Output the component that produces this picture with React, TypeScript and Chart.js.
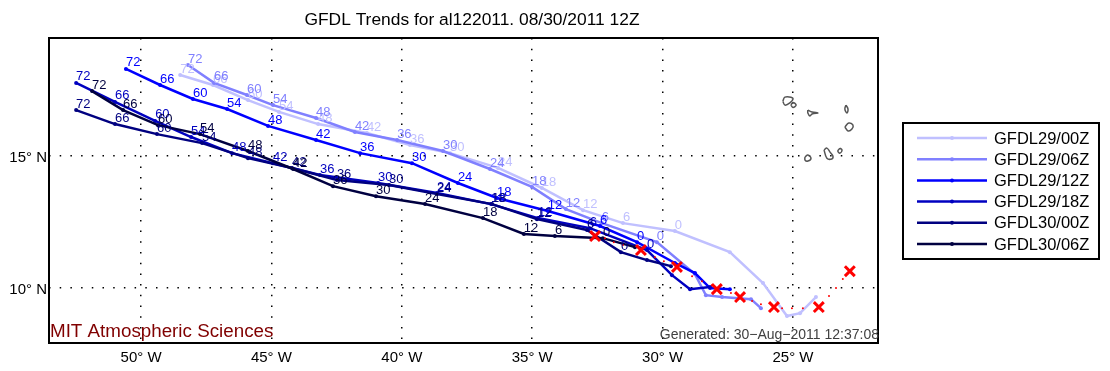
import React, { useEffect, useRef } from "react";
import { Chart, registerables } from "chart.js";

Chart.register(...registerables);

const FONT = '"Liberation Sans", Arial, sans-serif';

const titleText = "GFDL Trends for al122011. 08/30/2011 12Z";
const creditText = "MIT Atmospheric Sciences";
const generatedText = "Generated: 30\u2212Aug\u22122011 12:37:08";

const lonTicks = [-50, -45, -40, -35, -30, -25];
const latTicks = [10, 15];
const forecastHours = ["72", "66", "60", "54", "48", "42", "36", "30", "24", "18", "12", "6", "0"];

const seriesNames = ["GFDL29/00Z", "GFDL29/06Z", "GFDL29/12Z", "GFDL29/18Z", "GFDL30/00Z", "GFDL30/06Z"];
const seriesColors = ["#C0C0FF", "#8080FF", "#0000FF", "#0000C0", "#000080", "#000040"];

const lon2900 = [-48.5, -47.24, -45.9, -44.71, -43.21, -41.34, -39.69, -38.15, -36.31, -34.63, -33.05, -31.52, -29.53, -27.42, -26.15, -25.23, -24.73, -24.12];
const lat2900 = [18.07, 17.69, 17.12, 16.67, 16.21, 15.87, 15.42, 15.11, 14.55, 13.79, 12.95, 12.46, 12.16, 11.36, 10.19, 8.94, 9.05, 9.66];
const lon2906 = [-48.2, -47.2, -45.94, -44.94, -43.29, -41.8, -40.18, -38.42, -36.62, -35.01, -33.71, -32.33, -30.22, -28.76, -28.34, -27.72, -26.61, -26.23];
const lat2906 = [18.45, 17.77, 17.31, 16.93, 16.44, 15.91, 15.61, 15.19, 14.51, 13.83, 12.99, 12.46, 11.74, 10.53, 9.73, 9.66, 9.58, 9.24];
const lon2912 = [-50.58, -49.27, -48.01, -46.7, -45.13, -43.29, -41.6, -39.61, -37.85, -36.35, -34.4, -32.4, -30.98, -29.53, -28.76, -28.18, -27.42];
const lat2912 = [18.3, 17.69, 17.16, 16.78, 16.14, 15.61, 15.11, 14.73, 13.98, 13.41, 12.92, 12.35, 11.74, 10.95, 10.57, 10.0, 9.96];
const lon2918 = [-52.49, -51.0, -49.46, -48.08, -46.51, -44.94, -43.14, -40.91, -38.65, -36.58, -34.78, -32.79, -30.6, -29.64, -28.95, -28.18];
const lat2918 = [17.77, 17.05, 16.33, 15.72, 15.11, 14.73, 14.28, 13.98, 13.6, 13.18, 12.65, 12.27, 11.44, 10.49, 9.96, 10.04];
const lon3000 = [-52.49, -51.0, -49.39, -47.66, -45.9, -44.21, -42.49, -40.49, -38.65, -36.54, -34.82, -32.9, -31.6, -30.6, -29.68];
const lat3000 = [16.74, 16.21, 15.83, 15.49, 14.92, 14.55, 14.09, 13.9, 13.56, 13.18, 12.61, 12.2, 11.36, 11.06, 10.83];
const lon3006 = [-51.88, -50.69, -49.35, -47.74, -45.9, -44.17, -42.64, -40.99, -39.11, -36.89, -35.32, -34.13, -32.29, -31.06];
const lat3006 = [17.46, 16.74, 16.17, 15.83, 15.19, 14.51, 13.86, 13.48, 13.18, 12.65, 12.05, 11.97, 11.89, 11.55];

const bestLon = [-32.59, -30.83, -29.45, -27.92, -27.03, -25.73, -24.01, -22.82];
const bestLat = [11.97, 11.44, 10.8, 9.96, 9.66, 9.28, 9.28, 10.64];
const trackDotLon = [-32.21, -31.87, -31.52, -30.29, -29.95, -28.87, -28.49, -28.11, -27.38, -26.57, -26.23, -25.42, -25.04, -24.62, -23.62, -23.35, -23.09];
const trackDotLat = [11.89, 11.74, 11.63, 11.17, 11.02, 10.45, 10.26, 10.11, 9.81, 9.51, 9.39, 9.24, 9.24, 9.24, 9.7, 10.0, 10.34];

const islandLons = [
  [-25.39, -25.31, -25.08, -25.0, -25.12, -25.31],
  [-25.08, -25.0, -24.88, -25.0],
  [-24.43, -24.27, -24.04, -24.27, -24.35, -24.43],
  [-22.97, -22.89, -22.93, -23.01],
  [-23.01, -22.86, -22.7, -22.74, -22.89],
  [-23.81, -23.7, -23.58, -23.47, -23.51, -23.7],
  [-23.2, -23.12, -23.2, -23.28],
  [-24.54, -24.43, -24.31, -24.43, -24.54],
];
const islandLats = [
  [17.08, 17.23, 17.23, 17.16, 17.01, 16.93],
  [16.93, 17.03, 16.93, 16.84],
  [16.74, 16.67, 16.63, 16.59, 16.52, 16.63],
  [16.93, 16.78, 16.63, 16.78],
  [16.1, 16.25, 16.17, 16.02, 15.95],
  [15.23, 15.3, 15.15, 15.0, 14.89, 14.92],
  [15.3, 15.23, 15.11, 15.19],
  [14.96, 15.04, 14.92, 14.81, 14.85],
];

const zip = (xs: number[], ys: number[]) => xs.map((x, i) => ({ x, y: ys[i] }));

const trackLons = [lon2900, lon2906, lon2912, lon2918, lon3000, lon3006];
const trackLats = [lat2900, lat2906, lat2912, lat2918, lat3000, lat3006];

const overlayPlugin = {
  id: "overlay",
  afterDatasetsDraw(chart: any) {
    const { ctx, chartArea: a, scales } = chart;
    ctx.save();
    // forecast-hour labels
    ctx.font = `13px ${FONT}`;
    ctx.textAlign = "left";
    ctx.textBaseline = "middle";
    trackLons.forEach((lons, s) => {
      ctx.fillStyle = seriesColors[s];
      forecastHours.forEach((h, i) => {
        if (i >= lons.length) return;
        const px = scales.x.getPixelForValue(lons[i]);
        const py = scales.y.getPixelForValue(trackLats[s][i]);
        ctx.fillText(h, px, py - 6);
      });
    });
    // frame
    ctx.strokeStyle = "#000";
    ctx.lineWidth = 2;
    ctx.strokeRect(a.left, a.top, a.right - a.left, a.bottom - a.top);
    // title
    ctx.fillStyle = "#000";
    ctx.font = `17.4px ${FONT}`;
    ctx.textAlign = "center";
    ctx.fillText(titleText, 472, 20);
    // credit
    ctx.fillStyle = "#800000";
    ctx.font = `18.8px ${FONT}`;
    ctx.textAlign = "left";
    ctx.fillText(creditText, a.left + 1, 332);
    // generated
    ctx.fillStyle = "#404040";
    ctx.font = `14px ${FONT}`;
    ctx.textAlign = "right";
    ctx.fillText(generatedText, 879, 335);
    // legend
    ctx.strokeStyle = "#000";
    ctx.lineWidth = 2;
    ctx.fillStyle = "#fff";
    ctx.fillRect(903, 123, 196, 136);
    ctx.strokeRect(903, 123, 196, 136);
    ctx.font = `16.5px ${FONT}`;
    ctx.textAlign = "left";
    seriesNames.forEach((name, i) => {
      const y = 138 + i * 21.2;
      ctx.strokeStyle = seriesColors[i];
      ctx.lineWidth = 2.5;
      ctx.beginPath();
      ctx.moveTo(917, y);
      ctx.lineTo(987, y);
      ctx.stroke();
      ctx.fillStyle = seriesColors[i];
      ctx.beginPath();
      ctx.arc(952, y, 2, 0, Math.PI * 2);
      ctx.fill();
      ctx.fillStyle = "#000";
      ctx.fillText(name, 994, y + 1);
    });
    ctx.restore();
  },
};

export default function App() {
  const ref = useRef<HTMLCanvasElement>(null);
  useEffect(() => {
    const datasets: any[] = [];
    islandLons.forEach((lons, i) => {
      const pts = zip(lons, islandLats[i]);
      datasets.push({
        label: `island${i}`,
        data: [...pts, pts[0]],
        showLine: true,
        borderColor: "#555555",
        borderWidth: 1.5,
        pointRadius: 0,
        tension: 0.4,
        order: 10,
      });
    });
    seriesNames.forEach((name, i) => {
      datasets.push({
        label: name,
        data: zip(trackLons[i], trackLats[i]),
        showLine: true,
        borderColor: seriesColors[i],
        backgroundColor: seriesColors[i],
        borderWidth: 2.5,
        pointRadius: 2,
        pointBorderWidth: 0,
        order: 8 - i,
      });
    });
    datasets.push({
      label: "Track dots",
      data: zip(trackDotLon, trackDotLat),
      showLine: false,
      backgroundColor: "#FF0000",
      pointRadius: 1,
      pointBorderWidth: 0,
      order: 1,
    });
    datasets.push({
      label: "Best track",
      data: zip(bestLon, bestLat),
      showLine: false,
      borderColor: "#FF0000",
      pointStyle: "crossRot",
      pointRadius: 7,
      pointBorderWidth: 3,
      order: 0,
    });
    const chart = new Chart(ref.current as HTMLCanvasElement, {
      type: "scatter",
      data: { datasets },
      plugins: [overlayPlugin],
      options: {
        responsive: false,
        animation: false,
        layout: { padding: { top: 38, right: 232, left: 0, bottom: 0 } },
        plugins: { legend: { display: false }, tooltip: { enabled: false }, title: { display: false } },
        scales: {
          x: {
            type: "linear",
            min: -53.53,
            max: -21.74,
            afterFit: (s: any) => { s.height = 28; },
            afterBuildTicks: (s: any) => { s.ticks = lonTicks.map((value) => ({ value })); },
            grid: { color: "#000", lineWidth: 1.5, drawTicks: false },
            border: { display: false, dash: [1.5, 9.2] },
            ticks: {
              autoSkip: false,
              maxRotation: 0,
              padding: 6,
              color: "#000",
              font: { family: FONT, size: 15 },
              callback: (v: any) => `${-v}\u00B0 W`,
            },
          },
          y: {
            type: "linear",
            min: 7.92,
            max: 19.47,
            afterFit: (s: any) => { s.width = 49; },
            afterBuildTicks: (s: any) => { s.ticks = latTicks.map((value) => ({ value })); },
            grid: { color: "#000", lineWidth: 1.5, drawTicks: false },
            border: { display: false, dash: [1.5, 9.2] },
            ticks: {
              autoSkip: false,
              padding: 2,
              labelOffset: 2,
              color: "#000",
              font: { family: FONT, size: 15 },
              callback: (v: any) => `${v}\u00B0 N`,
            },
          },
        },
      },
    } as any);
    return () => chart.destroy();
  }, []);
  return (
    <div style={{ position: "fixed", left: 0, top: 0, width: 1110, height: 371, background: "#fff" }}>
      <canvas ref={ref} width={1110} height={371} style={{ display: "block" }} />
    </div>
  );
}
